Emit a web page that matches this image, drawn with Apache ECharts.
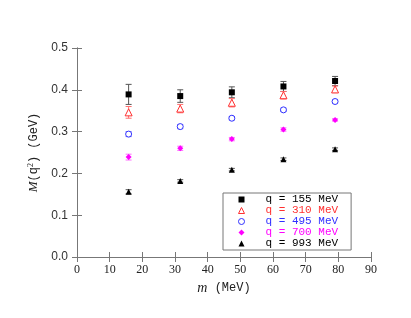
<!DOCTYPE html>
<html><head><meta charset="utf-8">
<script src="https://cdn.jsdelivr.net/npm/echarts@6/dist/echarts.min.js"></script>
<style>html,body{margin:0;padding:0;background:#fff}#c{width:411px;height:318px}</style>
</head><body><div id="c"></div>
<script>
const mValues = [15.8, 31.6, 47.4, 63.2, 79.0];
const names = ['q = 155 MeV', 'q = 310 MeV', 'q = 495 MeV', 'q = 700 MeV', 'q = 993 MeV'];
const q155 = [0.389, 0.385, 0.394, 0.408, 0.421];
const q155err = [0.024, 0.015, 0.013, 0.012, 0.011];
const q310 = [0.346, 0.355, 0.369, 0.387, 0.401];
const q310err = [0.014, 0.010, 0.010, 0.009, 0.008];
const q495 = [0.294, 0.312, 0.332, 0.352, 0.372];
const q495err = [0.006, 0.005, 0.004, 0.004, 0.004];
const q700 = [0.239, 0.260, 0.282, 0.305, 0.328];
const q700err = [0.007, 0.005, 0.004, 0.004, 0.003];
const q993 = [0.156, 0.182, 0.209, 0.234, 0.258];
const q993err = [0.005, 0.003, 0.003, 0.003, 0.003];
const xTicks = [0, 10, 20, 30, 40, 50, 60, 70, 80, 90];
const yTicks = [0.0, 0.1, 0.2, 0.3, 0.4, 0.5];

const colors = ['#000000', '#ff3030', '#3030ff', '#ff00ff', '#000000'];
const errColors = ['#555555', '#ff7070', '#7070ff', '#ff70ff', '#555555'];
const vals = [q155, q310, q495, q700, q993];
const errs = [q155err, q310err, q495err, q700err, q993err];
const symbols = ['rect', 'triangle', 'circle', 'diamond', 'triangle'];
const sizes = [6, 7, 6, 6, 6];
const hollow = [false, true, true, false, false];

const series = [];
vals.forEach((v, k) => {
  series.push({
    type: 'custom', name: 'err' + k, z: 1, silent: true,
    data: mValues.map((m, i) => [m, v[i] - errs[k][i], v[i] + errs[k][i]]),
    renderItem: function (params, api) {
      const lo = api.coord([api.value(0), api.value(1)]);
      const hi = api.coord([api.value(0), api.value(2)]);
      const w = 3;
      const st = { stroke: errColors[k], lineWidth: 1 };
      return { type: 'group', children: [
        { type: 'line', shape: { x1: lo[0], y1: lo[1], x2: hi[0], y2: hi[1] }, style: st },
        { type: 'line', shape: { x1: lo[0] - w, y1: lo[1], x2: lo[0] + w, y2: lo[1] }, style: st },
        { type: 'line', shape: { x1: hi[0] - w, y1: hi[1], x2: hi[0] + w, y2: hi[1] }, style: st }
      ]};
    }
  });
});
vals.forEach((v, k) => {
  series.push({
    type: 'scatter', name: names[k], z: 3,
    symbol: symbols[k], symbolSize: sizes[k],
    itemStyle: hollow[k] ? { color: '#ffffff', borderColor: colors[k], borderWidth: 1, opacity: 1 }
                         : { color: colors[k], opacity: 1 },
    data: mValues.map((m, i) => [m, v[i]])
  });
});

const axisCommon = {
  axisLine: { show: true, lineStyle: { color: '#777', width: 1 } },
  axisTick: { show: true, inside: true, length: 5, lineStyle: { color: '#777' } },
  splitLine: { show: false }
};

const chart = echarts.init(document.getElementById('c'), null, { renderer: 'canvas' });
chart.setOption({
  animation: false,
  backgroundColor: '#fff',
  grid: { left: 77, right: 40, top: 48, bottom: 61 },
  xAxis: [
    Object.assign({ type: 'value', min: xTicks[0], max: xTicks[xTicks.length - 1], interval: 10,
      name: '{i|m} (MeV)', nameLocation: 'middle', nameGap: 19,
      nameTextStyle: { fontFamily: 'Liberation Mono', fontSize: 12, color: '#222', verticalAlign: 'top',
        rich: { i: { fontFamily: 'Liberation Serif', fontStyle: 'italic', fontSize: 14, color: '#222' } } },
      axisLabel: { fontFamily: 'Liberation Serif', fontSize: 12, color: '#222', margin: 7 } }, axisCommon),
    Object.assign({ type: 'value', position: 'top', min: 0, max: 90, interval: 10,
      axisLabel: { show: false } }, axisCommon)
  ],
  yAxis: [
    Object.assign({ type: 'value', min: yTicks[0], max: yTicks[yTicks.length - 1], interval: 0.1,
      name: '{i|M}(q{s|2}) (GeV)', nameLocation: 'middle', nameGap: 35, nameRotate: 90,
      nameTextStyle: { fontFamily: 'Liberation Mono', fontSize: 12, color: '#222',
        rich: { i: { fontFamily: 'Liberation Serif', fontStyle: 'italic', fontSize: 13, color: '#222' },
                s: { fontFamily: 'Liberation Serif', fontSize: 8, color: '#222', verticalAlign: 'top', padding: [0, 0, 6, 0] } } },
      axisLabel: { fontFamily: 'Liberation Sans', fontSize: 12, color: '#333', margin: 9,
        formatter: v => v.toFixed(1) } }, axisCommon),
    Object.assign({ type: 'value', position: 'right', min: 0, max: 0.5, interval: 0.1,
      axisLabel: { show: false } }, axisCommon)
  ],
  legend: {
    data: names.map((n, k) => ({ name: n, textStyle: { color: colors[k] },
      itemStyle: { borderWidth: hollow[k] ? 1 : 0 } })),
    orient: 'vertical', left: 223, top: 193,
    padding: [1, 13, 1, 15], itemGap: 0, itemWidth: 6, itemHeight: 6,
    borderColor: '#777', borderWidth: 1, backgroundColor: '#fff',
    textStyle: { fontFamily: 'Liberation Mono', fontSize: 11, lineHeight: 10.4, padding: [0, 0, 0, 16] }
  },
  series: series
});
</script></body></html>
